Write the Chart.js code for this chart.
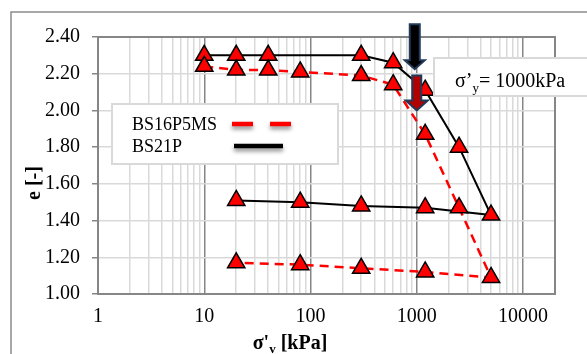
<!DOCTYPE html>
<html>
<head>
<meta charset="utf-8">
<script src="https://cdn.jsdelivr.net/npm/chart.js@4/dist/chart.umd.min.js"></script>
<style>
  body { margin: 0; background: #fff; }
  canvas { display: block; }
</style>
</head>
<body>
<canvas id="myChart" width="587" height="354"></canvas>
<script>
// values (loading, then unloading)
let seriesNames = ['BS16P5MS', 'BS21P'];
let stressRed = [10, 20, 40, 80, 300, 600, 1200, 2500, 5000, 1200, 300, 80, 20];
let voidRed = [2.24, 2.22, 2.22, 2.21, 2.19, 2.14, 1.87, 1.47, 1.09, 1.12, 1.14, 1.16, 1.17];
let stressBlack = [10, 20, 40, 300, 600, 1200, 2500, 5000, 1200, 300, 80, 20];
let voidBlack = [2.30, 2.30, 2.30, 2.30, 2.26, 2.11, 1.80, 1.43, 1.47, 1.48, 1.50, 1.51];

let xTickLabels = [1, 10, 100, 1000, 10000];
let yTickLabels = [1.0, 1.2, 1.4, 1.6, 1.8, 2.0, 2.2, 2.4];
let xMin = 1;
let xMax = 20000;

let yieldStress = 1000;
let arrowTops = [2.47, 2.19];
let arrowTips = [2.225, 2.0];

const SERIF = '"Liberation Serif", "Times New Roman", serif';

function toPoints(xs, ys) {
  let pts = [];
  for (let i = 0; i < xs.length; i++) {
    pts.push({ x: xs[i], y: ys[i] });
  }
  return pts;
}

// gridlines at 1..9 x each decade
let xGrid = [];
for (let d = 1; d <= 10000; d *= 10) {
  for (let m = 1; m <= 9; m++) {
    if (m * d <= xMax) xGrid.push(m * d);
  }
}
xGrid.push(xMax);

function drawParts(ctx, parts, x, y, align, bold) {
  let w = 0;
  for (let p of parts) {
    ctx.font = (bold ? 'bold ' : '') + p.size + 'px ' + SERIF;
    p.w = ctx.measureText(p.t).width;
    w += p.w;
  }
  let cx = align === 'center' ? x - w / 2 : x;
  ctx.textAlign = 'left';
  ctx.textBaseline = 'alphabetic';
  for (let p of parts) {
    ctx.font = (bold ? 'bold ' : '') + p.size + 'px ' + SERIF;
    ctx.fillText(p.t, cx, y + (p.dy || 0));
    cx += p.w;
  }
}

function drawArrow(ctx, x, yTop, yTip, shaftW, headW, headH, fill) {
  ctx.beginPath();
  ctx.moveTo(x - shaftW / 2, yTop);
  ctx.lineTo(x + shaftW / 2, yTop);
  ctx.lineTo(x + shaftW / 2, yTip - headH);
  ctx.lineTo(x + headW / 2, yTip - headH);
  ctx.lineTo(x, yTip);
  ctx.lineTo(x - headW / 2, yTip - headH);
  ctx.lineTo(x - shaftW / 2, yTip - headH);
  ctx.closePath();
  ctx.fillStyle = fill;
  ctx.fill();
  ctx.strokeStyle = '#22395a';
  ctx.lineWidth = 2;
  ctx.stroke();
}

let decor = {
  id: 'decor',
  beforeDraw(chart) {
    let ctx = chart.ctx;
    ctx.save();
    ctx.fillStyle = '#fff';
    ctx.fillRect(0, 0, chart.width, chart.height);
    ctx.strokeStyle = '#8c8c8c';
    ctx.lineWidth = 1.5;
    ctx.strokeRect(11, 12, 700, 500);
    ctx.restore();
  },
  beforeDatasetsDraw(chart) {
    let ctx = chart.ctx;
    let a = chart.chartArea;
    ctx.save();
    ctx.strokeStyle = '#868686';
    ctx.lineWidth = 2;
    ctx.strokeRect(a.left, a.top, a.right - a.left, a.bottom - a.top);
    ctx.restore();
  },
  afterDatasetsDraw(chart) {
    let ctx = chart.ctx;
    let xs = chart.scales.x;
    let ys = chart.scales.y;
    let sets = chart.data.datasets;
    ctx.save();

    // legend
    ctx.fillStyle = '#fff';
    ctx.fillRect(112, 104, 226, 60);
    ctx.strokeStyle = '#d9d9d9';
    ctx.lineWidth = 2;
    ctx.strokeRect(112, 104, 226, 60);
    ctx.fillStyle = '#000';
    ctx.font = '18px ' + SERIF;
    ctx.textAlign = 'left';
    ctx.textBaseline = 'alphabetic';
    ctx.fillText(sets[0].label, 132, 130);
    ctx.fillText(sets[1].label, 132, 152);
    ctx.save();
    ctx.shadowColor = 'rgba(0,0,0,0.45)';
    ctx.shadowBlur = 4;
    ctx.shadowOffsetY = 3;
    ctx.lineWidth = 4.5;
    ctx.strokeStyle = sets[0].borderColor;
    ctx.setLineDash([21, 17]);
    ctx.beginPath();
    ctx.moveTo(232, 124);
    ctx.lineTo(292, 124);
    ctx.stroke();
    ctx.setLineDash([]);
    ctx.strokeStyle = sets[1].borderColor;
    ctx.beginPath();
    ctx.moveTo(234, 146);
    ctx.lineTo(283, 146);
    ctx.stroke();
    ctx.restore();

    // yield stress label
    ctx.fillStyle = '#fff';
    ctx.fillRect(434, 58, 170, 38);
    ctx.strokeStyle = '#d9d9d9';
    ctx.lineWidth = 2;
    ctx.strokeRect(434, 58, 170, 38);
    ctx.fillStyle = '#000';
    drawParts(ctx, [
      { t: 'σ’', size: 20 },
      { t: 'y', size: 13, dy: 5 },
      { t: '= 1000kPa', size: 20 }
    ], 455, 87, 'left', false);

    // arrows
    let ax = xs.getPixelForValue(yieldStress);
    drawArrow(ctx, ax - 2, ys.getPixelForValue(arrowTops[0]), ys.getPixelForValue(arrowTips[0]), 10, 20, 9, '#000');
    drawArrow(ctx, ax, ys.getPixelForValue(arrowTops[1]), ys.getPixelForValue(arrowTips[1]), 9, 22, 10, '#b00000');
    ctx.restore();
  },
  afterDraw(chart) {
    let ctx = chart.ctx;
    ctx.save();
    ctx.fillStyle = '#000';
    drawParts(ctx, [
      { t: "σ'", size: 20 },
      { t: 'v', size: 13, dy: 4 },
      { t: ' [kPa]', size: 20 }
    ], 290, 349, 'center', true);
    ctx.translate(40, 183);
    ctx.rotate(-Math.PI / 2);
    drawParts(ctx, [{ t: 'e [-]', size: 20 }], 0, 0, 'center', true);
    ctx.restore();
  }
};

const data = {
  datasets: [{
    label: seriesNames[0],
    data: toPoints(stressRed, voidRed),
    showLine: true,
    borderColor: '#ff0000',
    borderWidth: 2.5,
    borderDash: [9, 6],
    pointStyle: 'triangle',
    pointRadius: 10,
    pointHoverRadius: 10,
    pointBackgroundColor: '#ff0000',
    pointBorderColor: '#000',
    pointBorderWidth: 1.5
  },
  {
    label: seriesNames[1],
    data: toPoints(stressBlack, voidBlack),
    showLine: true,
    borderColor: '#000',
    borderWidth: 2,
    pointStyle: 'triangle',
    pointRadius: 10,
    pointHoverRadius: 10,
    pointBackgroundColor: '#ff0000',
    pointBorderColor: '#000',
    pointBorderWidth: 1.5
  }]
};

const config = {
  type: 'scatter',
  data: data,
  options: {
    responsive: false,
    animation: false,
    layout: { padding: { top: 37, right: 32, left: 0, bottom: 0 } },
    plugins: {
      legend: { display: false },
      tooltip: { enabled: false }
    },
    scales: {
      x: {
        type: 'logarithmic',
        min: xMin,
        max: xMax,
        afterBuildTicks: (scale) => {
          scale.ticks = xGrid.map(v => ({ value: v }));
        },
        afterFit: (scale) => { scale.height = 60; },
        border: { display: false },
        grid: {
          drawTicks: false,
          lineWidth: 1.5,
          color: (c) => (c.tick && xTickLabels.includes(c.tick.value)) ? '#868686' : '#d9d9d9'
        },
        ticks: {
          autoSkip: false,
          maxRotation: 0,
          padding: 11,
          color: '#000',
          font: { family: SERIF, size: 20 },
          callback: (v) => xTickLabels.includes(v) ? String(v) : ''
        }
      },
      y: {
        min: 1,
        max: 2.4,
        afterBuildTicks: (scale) => {
          scale.ticks = yTickLabels.map(v => ({ value: v }));
        },
        afterFit: (scale) => { scale.width = 98; },
        border: { display: false },
        grid: {
          color: '#d9d9d9',
          lineWidth: 1.5,
          tickColor: '#868686',
          tickLength: 6
        },
        ticks: {
          padding: 12,
          color: '#000',
          font: { family: SERIF, size: 20 },
          callback: (v) => v.toFixed(2)
        }
      }
    }
  },
  plugins: [decor]
};

let canvasChart = document.getElementById('myChart');
new Chart(canvasChart, config);
</script>
</body>
</html>
